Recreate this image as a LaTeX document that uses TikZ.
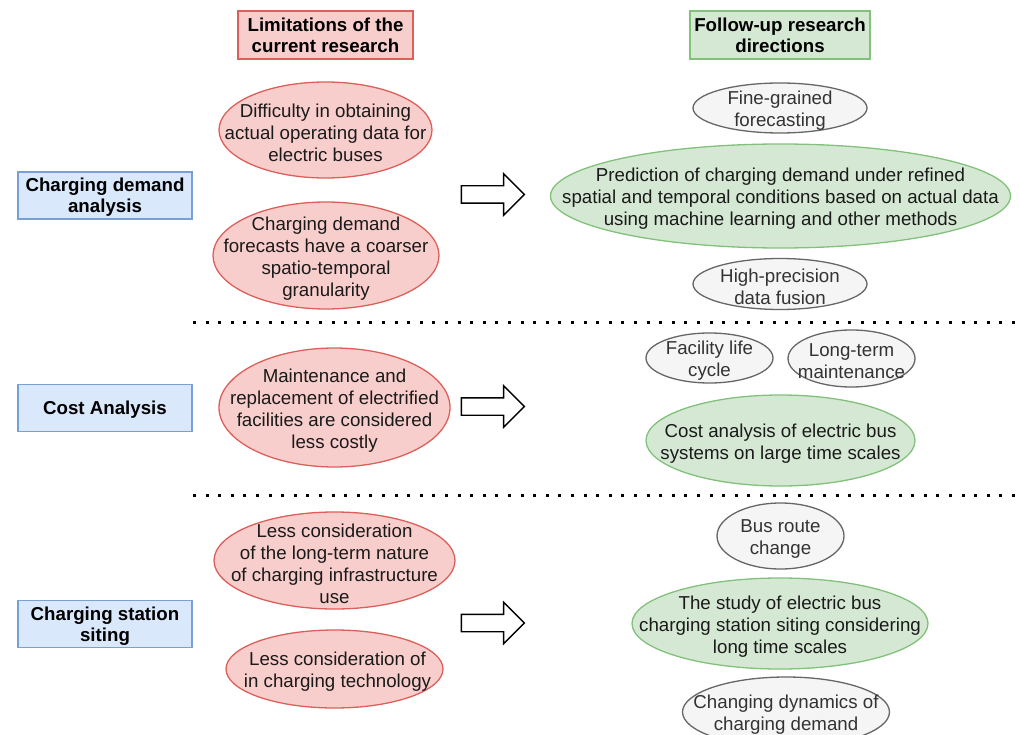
\documentclass[tikz,border=0pt]{standalone}
\usepackage{fontspec}
\setmainfont{Liberation Sans}
\usetikzlibrary{shapes.geometric,shapes.arrows}

\definecolor{limfill}{HTML}{F8CECC}
\definecolor{limline}{HTML}{DD5F5A}
\definecolor{dirfill}{HTML}{D5E8D4}
\definecolor{dirline}{HTML}{82C17A}
\definecolor{topfill}{HTML}{DAE8FC}
\definecolor{topline}{HTML}{7A9FD4}
\definecolor{keyfill}{HTML}{F5F5F5}
\definecolor{keyline}{HTML}{666666}
\definecolor{keytext}{HTML}{333333}
\definecolor{ink}{HTML}{1A1A1A}

\tikzset{
  txt/.style={font=\fontsize{18.7}{22}\selectfont, align=center, inner sep=0pt, yshift=-3pt},
  head/.style={draw, line width=1.4pt, rectangle, minimum height=48pt,
    font=\fontsize{18.7}{21}\selectfont\bfseries, align=center, inner sep=0pt, text=black},
  limhead/.style={head, fill=limfill, draw=limline},
  dirhead/.style={head, fill=dirfill, draw=dirline},
  topic/.style={draw=topline, fill=topfill, line width=1.4pt, rectangle,
    minimum width=174pt, minimum height=47pt},
  topictext/.style={font=\fontsize{18.7}{21}\selectfont\bfseries, align=center,
    inner sep=0pt, text=black, yshift=-2pt},
  oval/.style={ellipse, inner sep=0pt, line width=1.3pt},
  limit/.style={oval, draw=limline, fill=limfill},
  direction/.style={oval, draw=dirline, fill=dirfill},
  keyword/.style={oval, draw=keyline, fill=keyfill},
  limtext/.style={txt, text=ink},
  dirtext/.style={txt, text=ink},
  keytext/.style={txt, text=keytext},
  blockarrow/.style={single arrow, draw=black, fill=white, line width=1.4pt,
    inner sep=8pt, single arrow head extend=12pt, minimum height=63pt},
  sep/.style={line width=3pt, dash pattern=on 3pt off 9.6pt}
}

\begin{document}
\begin{tikzpicture}[x=1pt,y=-1pt]
\useasboundingbox (0,0) rectangle (1019,735);
\clip (0,0) rectangle (1019,735);

% column headers
\node[limhead, minimum width=175pt] (hlim) at (325.5,35) {Limitations of the\\current research};
\node[dirhead, minimum width=180pt] (hdir) at (780,35) {Follow-up research\\directions};

% research topics
\node[topic] (tdemand) at (105,195.5) {};
\node[topictext] (tdemandt) at (tdemand.center) {Charging demand\\analysis};
\node[topic] (tcost)   at (105,408)   {};
\node[topictext] (tcostt) at (tcost.center) {Cost Analysis};
\node[topic] (tsite)   at (105,624)   {};
\node[topictext] (tsitet) at (tsite.center) {Charging station\\siting};

% section separators
\coordinate (s1a) at (193,322);  \coordinate (s1b) at (1019,322);
\coordinate (s2a) at (193,495);  \coordinate (s2b) at (1019,495);
\draw[sep] (s1a) -- (s1b);
\draw[sep] (s2a) -- (s2b);

% limitations (fixed-size ovals, text laid on top)
\node[limit, minimum width=213pt, minimum height=96pt]  (l1) at (325.5,130) {};
\node[limtext] (l1t) at (l1.center) {Difficulty in obtaining\\actual operating data for\\electric buses};
\node[limit, minimum width=226pt, minimum height=107pt] (l2) at (326,255.5) {};
\node[limtext] (l2t) at (l2.center) {Charging demand\\forecasts have a coarser\\spatio-temporal\\granularity};
\node[limit, minimum width=231pt, minimum height=119pt] (l3) at (334.5,407.5) {};
\node[limtext] (l3t) at (l3.center) {Maintenance and\\replacement of electrified\\facilities are considered\\less costly};
\node[limit, minimum width=241pt, minimum height=97pt]  (l4) at (334.5,560.5) {};
\node[limtext] (l4t) at (l4.center) {Less consideration\\of the long-term nature\\of charging infrastructure\\use};
\node[limit, minimum width=217pt, minimum height=78pt]  (l5) at (334.5,669) {};
\node[limtext] (l5t) at ([xshift=3pt]l5.center) {Less consideration of\\in charging technology};

% transition arrows
\node[blockarrow] (a1) at (488.5,194.5) {};
\node[blockarrow] (a2) at (488.5,406.5) {};
\node[blockarrow] (a3) at (488.5,623) {};

% follow-up directions: charging demand
\node[keyword, minimum width=174pt, minimum height=50pt] (k1) at (780,108) {};
\node[keytext] (k1t) at (k1.center) {Fine-grained\\forecasting};
\node[direction, minimum width=460pt, minimum height=104pt] (d1) at (780.5,196) {};
\node[dirtext] (d1t) at (d1.center) {Prediction of charging demand under refined\\spatial and temporal conditions based on actual data\\using machine learning and other methods};
\node[keyword, minimum width=174pt, minimum height=51pt] (k2) at (780,284) {};
\node[keytext] (k2t) at (k2.center) {High-precision\\data fusion};

% follow-up directions: cost
\node[keyword, minimum width=127pt, minimum height=50pt] (k3) at (709.5,358) {};
\node[keytext] (k3t) at (k3.center) {Facility life\\cycle};
\node[keyword, minimum width=127pt, minimum height=57pt] (k4) at (851.5,358.5) {};
\node[keytext] (k4t) at (k4.center) {Long-term\\maintenance};
\node[direction, minimum width=269pt, minimum height=91pt] (d2) at (780.5,440.5) {};
\node[dirtext] (d2t) at (d2.center) {Cost analysis of electric bus\\systems on large time scales};

% follow-up directions: siting
\node[keyword, minimum width=127pt, minimum height=66pt] (k5) at (780.5,536) {};
\node[keytext] (k5t) at (k5.center) {Bus route\\change};
\node[direction, minimum width=296pt, minimum height=91pt] (d3) at (780,623.5) {};
\node[dirtext] (d3t) at (d3.center) {The study of electric bus\\charging station siting considering\\long time scales};
\node[keyword, minimum width=207pt, minimum height=70pt] (k6) at (786,712) {};
\node[keytext] (k6t) at (k6.center) {Changing dynamics of\\charging demand};
\end{tikzpicture}
\end{document}
